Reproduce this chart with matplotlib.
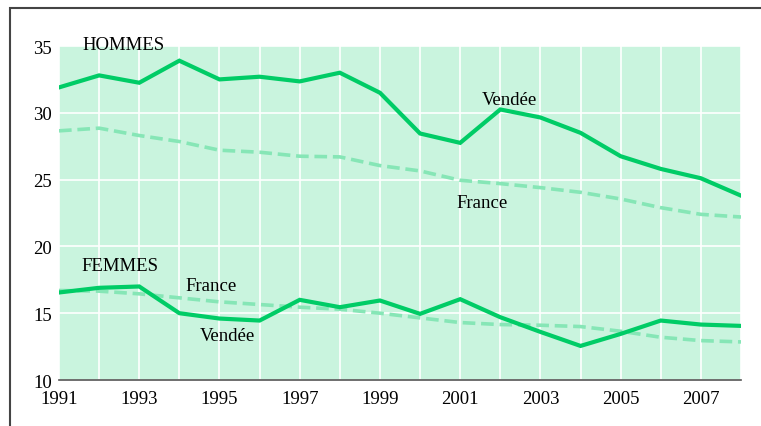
import matplotlib.pyplot as plt
from matplotlib.patches import Rectangle

years = list(range(1991, 2009))
hommes_vendee = [31.9, 32.8, 32.25, 33.9, 32.5, 32.7, 32.35, 33.0, 31.5, 28.45,
                 27.75, 30.25, 29.65, 28.5, 26.75, 25.8, 25.1, 23.8]
hommes_france = [28.65, 28.85, 28.3, 27.85, 27.2, 27.05, 26.75, 26.7, 26.05, 25.65,
                 24.95, 24.7, 24.4, 24.05, 23.55, 22.9, 22.4, 22.2]
femmes_vendee = [16.55, 16.9, 17.0, 15.0, 14.6, 14.45, 16.0, 15.45, 15.95, 14.95,
                 16.05, 14.7, 13.6, 12.55, 13.45, 14.45, 14.15, 14.05]
femmes_france = [16.7, 16.65, 16.45, 16.15, 15.85, 15.65, 15.45, 15.3, 15.0, 14.65,
                 14.3, 14.15, 14.1, 14.0, 13.65, 13.2, 12.95, 12.85]
xticks = list(range(1991, 2009, 2))
yticks = [10, 15, 20, 25, 30, 35]

plt.rcParams['font.family'] = ['Liberation Serif', 'DejaVu Serif']

fig = plt.figure(figsize=(7.61, 4.27), dpi=100)
ax = fig.add_axes([59/761, 46/427, 682/761, 334/427])
ax.set_facecolor('#c9f4de')

solid = '#00cc66'
light = '#86e6b6'
ax.plot(years, hommes_france, color=light, lw=2.6, dashes=(3.5, 1.6), solid_capstyle='butt')
ax.plot(years, femmes_france, color=light, lw=2.6, dashes=(3.5, 1.6), solid_capstyle='butt')
ax.plot(years, hommes_vendee, color=solid, lw=3.0, solid_joinstyle='miter')
ax.plot(years, femmes_vendee, color=solid, lw=3.0, solid_joinstyle='miter')

ax.set_xlim(1991, 2008)
ax.set_ylim(10, 35)
ax.set_xticks(xticks)
ax.set_xticks(years, minor=True)
ax.set_yticks(yticks)
ax.grid(True, which='both', color='white', lw=1.2)
ax.set_axisbelow(True)
for s in ['top', 'right', 'left']:
    ax.spines[s].set_visible(False)
ax.spines['bottom'].set_color('#555555')
ax.spines['bottom'].set_linewidth(1.2)
ax.tick_params(which='both', length=0, labelsize=13.5, colors='black')
ax.tick_params(axis='x', pad=7)
ax.tick_params(axis='y', pad=5)

ax.text(1991.58, 35.1, 'HOMMES', fontsize=13.5, va='center')
ax.text(2001.55, 31.0, 'Vendée', fontsize=13.5, va='center')
ax.text(2000.9, 23.3, 'France', fontsize=13.5, va='center')
ax.text(1991.55, 18.6, 'FEMMES', fontsize=13.5, va='center')
ax.text(1994.15, 17.1, 'France', fontsize=13.5, va='center')
ax.text(1994.5, 13.35, 'Vendée', fontsize=13.5, va='center')

fig.patches.append(Rectangle((10/761, -0.2), 1.0, 1.2 - 9/427, transform=fig.transFigure,
                             fill=False, edgecolor='#444444', lw=1.5))

fig.savefig('out.png', dpi=100)
